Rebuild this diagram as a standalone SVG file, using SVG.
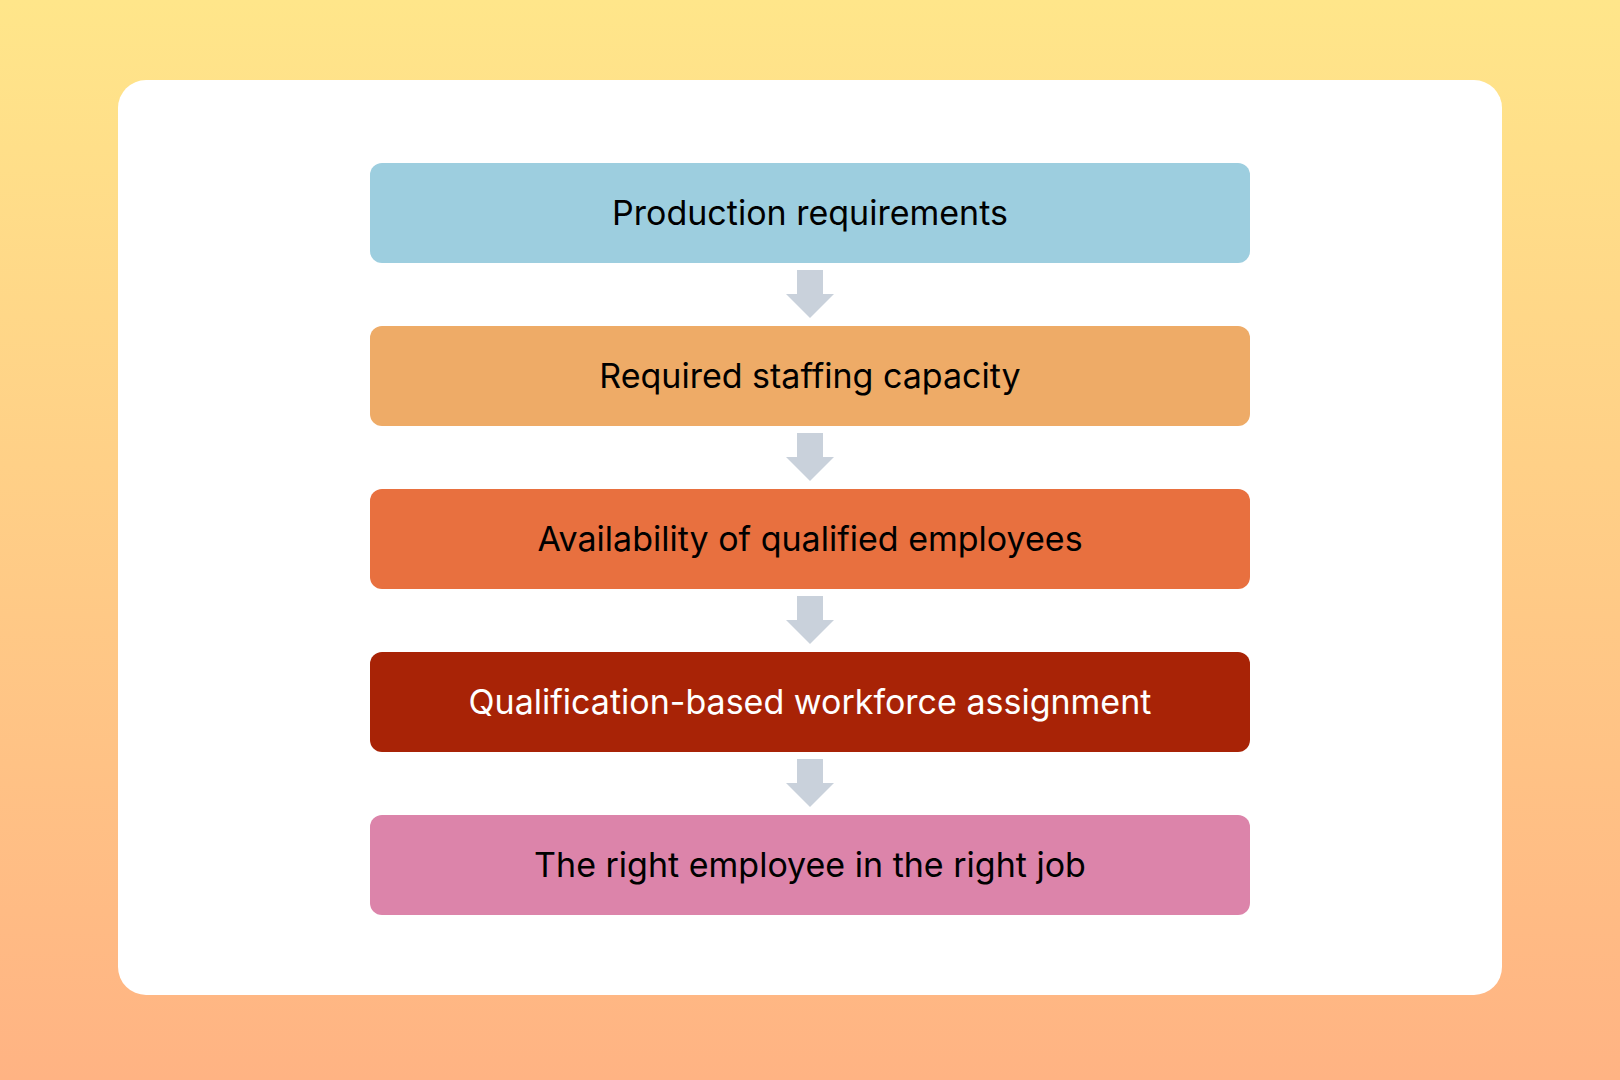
<svg xmlns="http://www.w3.org/2000/svg" width="1620" height="1080" viewBox="0 0 1620 1080">
<defs>
<linearGradient id="bg" x1="0" y1="0" x2="0" y2="1">
<stop offset="0" stop-color="#FFE68A"/>
<stop offset="1" stop-color="#FFB383"/>
</linearGradient>
<style>
.lbl{font-family:Inter,"Noto Sans","Liberation Sans",sans-serif;font-size:34px;text-anchor:middle;fill:#000000}
.arrow{fill:#C9D1DB}
</style>
</defs>
<rect x="0" y="0" width="1620" height="1080" fill="url(#bg)"/>
<rect x="118" y="80" width="1384" height="915" rx="28" fill="#FFFFFF"/>
<g id="connectors">
<path class="arrow" d="M797,270 H823 V294 H834 L810,318 L786,294 H797 Z"/>
<path class="arrow" d="M797,433 H823 V457 H834 L810,481 L786,457 H797 Z"/>
<path class="arrow" d="M797,596 H823 V620 H834 L810,644 L786,620 H797 Z"/>
<path class="arrow" d="M797,759 H823 V783 H834 L810,807 L786,783 H797 Z"/>
</g>
<g id="n1">
<rect x="370" y="163" width="880" height="100" rx="12" fill="#9DCEDF"/>
<text class="lbl" x="810" y="225">Production requirements</text>
</g>
<g id="n2">
<rect x="370" y="326" width="880" height="100" rx="12" fill="#EEAB67"/>
<text class="lbl" x="810" y="388">Required staffing capacity</text>
</g>
<g id="n3">
<rect x="370" y="489" width="880" height="100" rx="12" fill="#E8703F"/>
<text class="lbl" x="810" y="551">Availability of qualified employees</text>
</g>
<g id="n4">
<rect x="370" y="652" width="880" height="100" rx="12" fill="#A82306"/>
<text class="lbl" x="810" y="714" style="fill:#FFFFFF">Qualification-based workforce assignment</text>
</g>
<g id="n5">
<rect x="370" y="815" width="880" height="100" rx="12" fill="#DC84AA"/>
<text class="lbl" x="810" y="877">The right employee in the right job</text>
</g>
</svg>
